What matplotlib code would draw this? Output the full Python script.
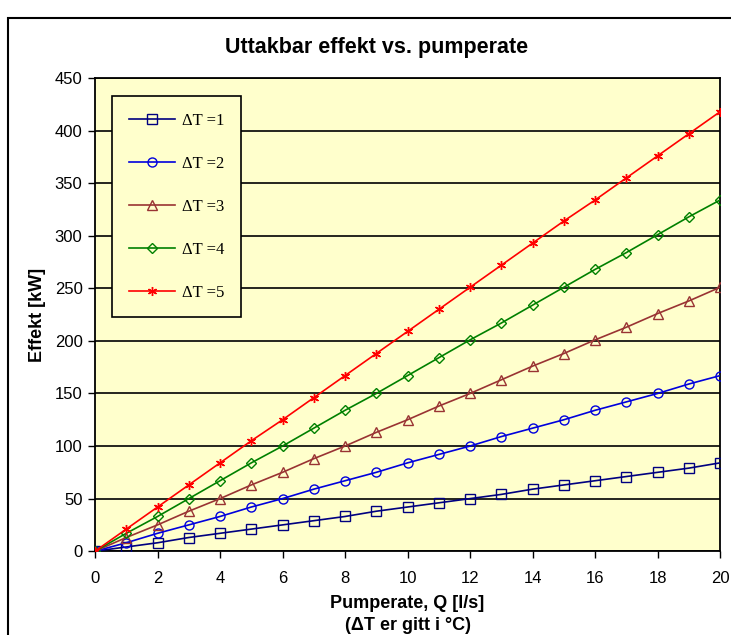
import numpy as np
import matplotlib.pyplot as plt
from matplotlib.patches import Rectangle

# Pumperate Q [l/s]
q = list(range(0, 21))

# Effekt [kW] for each temperature difference
dt1 = [0, 4, 8, 13, 17, 21, 25, 29, 33, 38, 42, 46, 50, 54, 59, 63, 67, 71, 75, 79, 84]
dt2 = [0, 8, 17, 25, 33, 42, 50, 59, 67, 75, 84, 92, 100, 109, 117, 125, 134, 142, 150, 159, 167]
dt3 = [0, 13, 25, 38, 50, 63, 75, 88, 100, 113, 125, 138, 150, 163, 176, 188, 201, 213, 226, 238, 251]
dt4 = [0, 17, 33, 50, 67, 84, 100, 117, 134, 150, 167, 184, 201, 217, 234, 251, 268, 284, 301, 318, 334]
dt5 = [0, 21, 42, 63, 84, 105, 125, 146, 167, 188, 209, 230, 251, 272, 293, 314, 334, 355, 376, 397, 418]

labels = ['ΔT =1', 'ΔT =2', 'ΔT =3', 'ΔT =4', 'ΔT =5']

plt.rcParams['font.family'] = ['Liberation Sans', 'DejaVu Sans']

fig = plt.figure(figsize=(7.31, 6.35), dpi=100)
ax = fig.add_axes([0.130, 0.132, 0.855, 0.745])

# chart frame (runs off the right and bottom edges)
fig.patches.append(Rectangle((8 / 731, -0.05), 1.1, 1 - 18 / 635 + 0.05,
                             transform=fig.transFigure, fill=False,
                             edgecolor='black', linewidth=1.5, zorder=0))

ax.set_facecolor('#ffffcc')

styles = [
    (dt1, '#000080', 's'),
    (dt2, '#0000dd', 'o'),
    (dt3, '#993333', '^'),
    (dt4, '#008000', 'D'),
    (dt5, '#ff0000', (6, 2, 0)),
]
for (vals, c, m), lab in zip(styles, labels):
    ms = 5.5 if m == 'D' else 6.5
    ax.plot(q, vals, color=c, lw=1.2, marker=m, ms=ms, mfc='none',
            mec=c, mew=1.0, label=lab, zorder=3)

ax.set_xlim(0, 20)
ax.set_ylim(0, 450)
ax.set_xticks(np.arange(0, 21, 2))
ax.set_yticks(np.arange(0, 451, 50))
ax.tick_params(axis='both', direction='out', length=5, width=1, labelsize=12, pad=4)
ax.tick_params(axis='x', pad=9)

ax.grid(axis='y', color='black', lw=1.2)
ax.set_axisbelow(True)
for s in ax.spines.values():
    s.set_color('black')
    s.set_linewidth(1.3)

# title is centred on the whole chart frame, not on the plot area
fig.text(377 / 731, 1 - 48 / 635, 'Uttakbar effekt vs. pumperate', fontsize=15.5,
         fontweight='bold', ha='center', va='center')
ax.set_ylabel('Effekt [kW]', fontsize=13, fontweight='bold', labelpad=6)
ax.set_xlabel('Pumperate, Q [l/s]\n(ΔT er gitt i °C)', fontsize=13,
              fontweight='bold', labelpad=7, linespacing=1.35)

leg = ax.legend(loc='upper left', bbox_to_anchor=(0.027, 0.962),
                prop={'family': 'Liberation Serif', 'size': 12},
                labelspacing=1.62, handlelength=2.8, handletextpad=0.4,
                borderpad=1.0, fancybox=False, framealpha=1,
                facecolor='#ffffcc', edgecolor='black', borderaxespad=0)
leg.get_frame().set_linewidth(1.2)

fig.savefig('out.png', dpi=100)
